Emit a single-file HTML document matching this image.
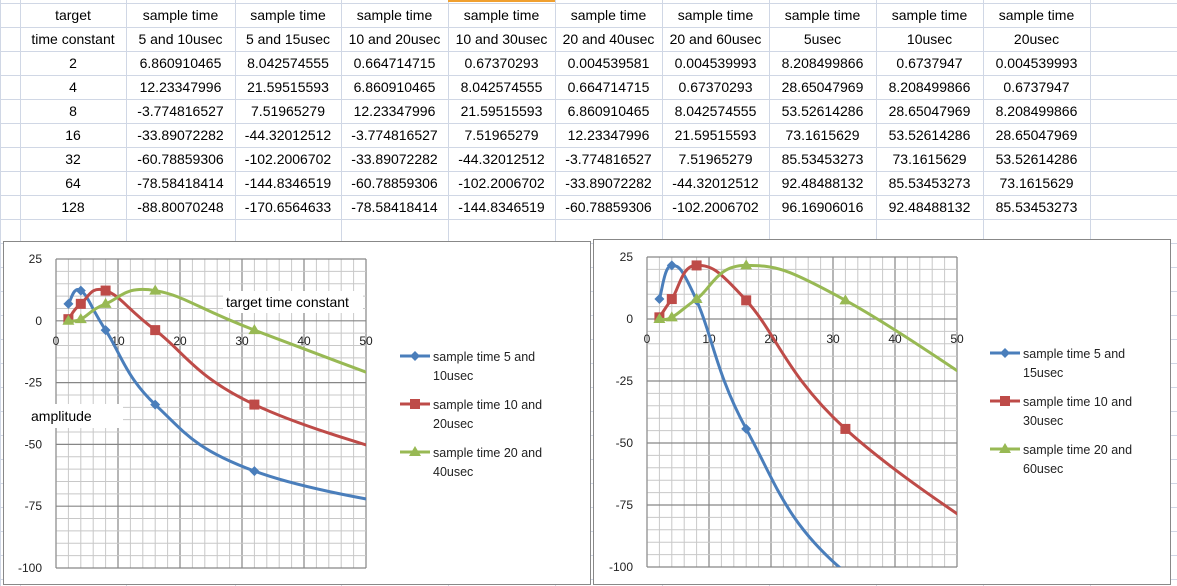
<!DOCTYPE html>
<html><head><meta charset="utf-8"><style>
body{margin:0;width:1177px;height:586px;overflow:hidden;background:#fff;font-family:"Liberation Sans",sans-serif}
svg{position:absolute;left:0;top:0}
</style></head><body>
<svg id="s" width="1177" height="586" xmlns="http://www.w3.org/2000/svg" font-family="Liberation Sans, sans-serif"></svg>
<script>
const S=document.getElementById('s');let h='';
const cols=[0,20,126,235,341,448,555,662,769,876,983,1090,1177];
for(const c of cols)h+=`<line x1="${c+.5}" y1="0" x2="${c+.5}" y2="586" stroke="#d0d7e5"/>`;
for(let y=3;y<586;y+=24)h+=`<line x1="0" y1="${y+.5}" x2="1177" y2="${y+.5}" stroke="#d0d7e5"/>`;
h+=`<line x1="448" y1="1" x2="555" y2="1" stroke="#f0a030" stroke-width="2"/>`;
const rows=[["target","sample time","sample time","sample time","sample time","sample time","sample time","sample time","sample time","sample time"],
["time constant","5 and 10usec","5 and 15usec","10 and 20usec","10 and 30usec","20 and 40usec","20 and 60usec","5usec","10usec","20usec"],
["2","6.860910465","8.042574555","0.664714715","0.67370293","0.004539581","0.004539993","8.208499866","0.6737947","0.004539993"],
["4","12.23347996","21.59515593","6.860910465","8.042574555","0.664714715","0.67370293","28.65047969","8.208499866","0.6737947"],
["8","-3.774816527","7.51965279","12.23347996","21.59515593","6.860910465","8.042574555","53.52614286","28.65047969","8.208499866"],
["16","-33.89072282","-44.32012512","-3.774816527","7.51965279","12.23347996","21.59515593","73.1615629","53.52614286","28.65047969"],
["32","-60.78859306","-102.2006702","-33.89072282","-44.32012512","-3.774816527","7.51965279","85.53453273","73.1615629","53.52614286"],
["64","-78.58418414","-144.8346519","-60.78859306","-102.2006702","-33.89072282","-44.32012512","92.48488132","85.53453273","73.1615629"],
["128","-88.80070248","-170.6564633","-78.58418414","-144.8346519","-60.78859306","-102.2006702","96.16906016","92.48488132","85.53453273"]];
rows.forEach((r,i)=>{r.forEach((t,j)=>{const cx=(cols[j+1]+cols[j+2])/2;h+=`<text x="${cx}" y="${20+i*24}" font-size="14" text-anchor="middle" fill="#000">${t}</text>`;});});
function cr(pts){let d=`M${pts[0][0]},${pts[0][1]}`;for(let i=0;i<pts.length-1;i++){const p0=pts[Math.max(i-1,0)],p1=pts[i],p2=pts[i+1],p3=pts[Math.min(i+2,pts.length-1)];const t=0.2;d+=` C${p1[0]+(p2[0]-p0[0])*t},${p1[1]+(p2[1]-p0[1])*t} ${p2[0]-(p3[0]-p1[0])*t},${p2[1]-(p3[1]-p1[1])*t} ${p2[0]},${p2[1]}`;}return d;}
function chart(id,fx,fy,fw,fh,L,R,T,B,series,names){
 h+=`<rect x="${fx+.5}" y="${fy+.5}" width="${fw}" height="${fh}" fill="#fff" stroke="#888"/>`;
 const X=v=>L+(R-L)*v/50,Y=v=>T+(B-T)*(25-v)/125;
 for(let i=0;i<=25;i++){const x=L+(R-L)*i/25;h+=`<line x1="${x}" y1="${T}" x2="${x}" y2="${B}" stroke="${i%5==0?'#868686':'#c8c8c8'}" stroke-width="${i%5==0?1.2:1}"/>`;}
 for(let i=0;i<=25;i++){const y=T+(B-T)*i/25;h+=`<line x1="${L}" y1="${y}" x2="${R}" y2="${y}" stroke="${i%5==0?'#868686':'#c8c8c8'}" stroke-width="${i%5==0?1.2:1}"/>`;}
 h+=`<line x1="${L}" y1="${T}" x2="${L}" y2="${B}" stroke="#868686"/>`;
 [25,0,-25,-50,-75,-100].forEach(v=>h+=`<text x="${L-14}" y="${Y(v)+4}" font-size="12" text-anchor="end" fill="#222">${v}</text>`);
 [0,10,20,30,40,50].forEach(v=>h+=`<text x="${X(v)}" y="${Y(0)+24}" font-size="12" text-anchor="middle" fill="#222">${v}</text>`);
 h+=`<clipPath id="c${id}"><rect x="${L}" y="${T-10}" width="${R-L}" height="${B-T+10}"/></clipPath>`;
 const colr=['#4a7ebb','#be4b48','#98b954'],xs=[2,4,8,16,32,64];
 series.forEach((s,k)=>{const p=s.map((v,i)=>[X(xs[i]),Y(v)]);h+=`<path d="${cr(p)}" fill="none" stroke="${colr[k]}" stroke-width="3" clip-path="url(#c${id})"/>`;
  p.forEach(q=>{if(q[0]>R||q[1]>B)return;h+=mk(k,q[0],q[1],colr[k]);});});
 names.forEach((n,k)=>{const ly=(id==0?356:353)+k*48,lx=id==0?400:990;h+=`<line x1="${lx}" y1="${ly}" x2="${lx+30}" y2="${ly}" stroke="${colr[k]}" stroke-width="3"/>`+mk(k,lx+15,ly,colr[k]);
  h+=`<text x="${lx+33}" y="${ly+5}" font-size="12.5" fill="#222">${n[0]}</text><text x="${lx+33}" y="${ly+24}" font-size="12.5" fill="#222">${n[1]}</text>`;});
}
function mk(k,x,y,c){if(k==0)return `<path d="M${x},${y-5}L${x+5},${y}L${x},${y+5}L${x-5},${y}Z" fill="${c}"/>`;if(k==1)return `<rect x="${x-5}" y="${y-5}" width="10" height="10" fill="${c}"/>`;return `<path d="M${x},${y-6}L${x+6},${y+4}L${x-6},${y+4}Z" fill="${c}"/>`;}
chart(0,3,241,587,343,56,366,259,568,
 [[6.86,12.23,-3.77,-33.89,-60.79,-78.58],[0.66,6.86,12.23,-3.77,-33.89,-60.79],[0.0045,0.66,6.86,12.23,-3.77,-33.89]],
 [["sample time  5 and","10usec"],["sample time  10 and","20usec"],["sample time  20 and","40usec"]]);
h+=`<rect x="223" y="291" width="140" height="22" fill="#fff"/><text x="226" y="307" font-size="14" fill="#000">target time constant</text>`;
h+=`<rect x="27" y="404" width="96" height="24" fill="#fff"/><text x="31" y="421" font-size="14" fill="#000">amplitude</text>`;
chart(1,593,239,577,345,647,957,257,567,
 [[8.04,21.6,7.52,-44.32,-102.2,-144.8],[0.67,8.04,21.6,7.52,-44.32,-102.2],[0.0045,0.67,8.04,21.6,7.52,-44.32]],
 [["sample time  5 and","15usec"],["sample time  10 and","30usec"],["sample time  20 and","60usec"]]);
S.innerHTML=h;
</script>
</body></html>
